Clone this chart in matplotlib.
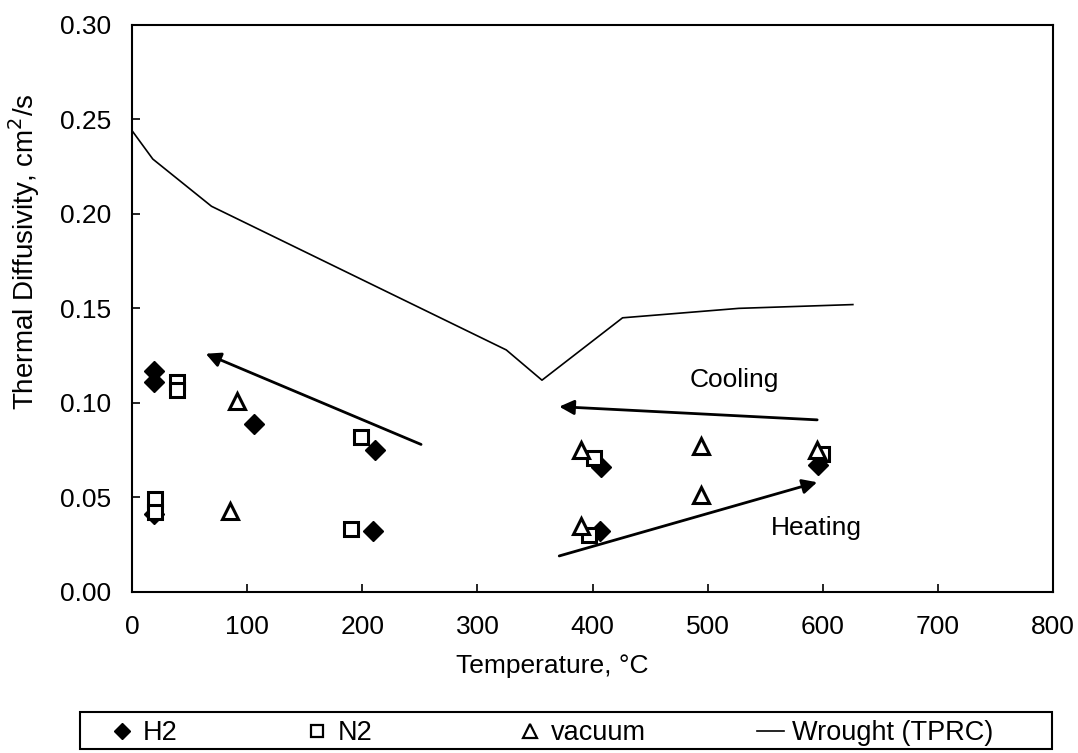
import matplotlib
matplotlib.use("Agg")
import matplotlib.pyplot as plt
from matplotlib.lines import Line2D
from matplotlib.patches import Rectangle

plt.rcParams['font.family'] = ['Liberation Sans', 'DejaVu Sans']

# measured diffusivity, cm^2/s
h2_temp = [19, 19, 19, 106, 211, 209, 407, 406, 596]
h2_diff = [0.117, 0.111, 0.041, 0.089, 0.075, 0.032, 0.066, 0.032, 0.067]

n2_temp = [39, 39, 20, 20, 199, 190, 401, 397, 599]
n2_diff = [0.111, 0.107, 0.049, 0.042, 0.082, 0.033, 0.071, 0.030, 0.073]

vac_temp = [91, 85, 390, 390, 494, 494, 595]
vac_diff = [0.101, 0.043, 0.075, 0.035, 0.077, 0.051, 0.075]

# wrought reference curve (TPRC)
tprc_temp = [0, 18, 69, 325, 356, 426, 527, 626]
tprc_diff = [0.244, 0.229, 0.204, 0.128, 0.112, 0.145, 0.150, 0.152]

x_ticks = [0, 100, 200, 300, 400, 500, 600, 700, 800]
y_ticks = [0.00, 0.05, 0.10, 0.15, 0.20, 0.25, 0.30]

W, H = 1078, 753
fig = plt.figure(figsize=(W / 100, H / 100), dpi=100)
ax = fig.add_axes([0.1225, 0.214, 0.8545, 0.753])

ax.plot(tprc_temp, tprc_diff, color='black', lw=1.2)
ax.plot(h2_temp, h2_diff, ls='none', marker='D', ms=10, color='black')
ax.plot(n2_temp, n2_diff, ls='none', marker='s', ms=10, mfc='white',
        mec='black', mew=2.2)
ax.plot(vac_temp, vac_diff, ls='none', marker='^', ms=11, mfc='white',
        mec='black', mew=2.2)

arrow = dict(arrowstyle='-|>', color='black', lw=2, mutation_scale=22,
             shrinkA=0, shrinkB=0)
ax.annotate('', xy=(64, 0.126), xytext=(251, 0.078), arrowprops=arrow)
ax.annotate('', xy=(371, 0.098), xytext=(595, 0.091), arrowprops=arrow)
ax.annotate('', xy=(595, 0.058), xytext=(371, 0.019), arrowprops=arrow)
ax.text(523, 0.112, 'Cooling', fontsize=19, ha='center', va='center')
ax.text(594, 0.034, 'Heating', fontsize=19, ha='center', va='center')

ax.set_xlim(0, 800)
ax.set_ylim(0, 0.30)
ax.set_xticks(x_ticks)
ax.set_yticks(y_ticks)
ax.set_yticklabels([f'{v:.2f}' for v in y_ticks])
ax.tick_params(direction='in', length=6, width=1.2, labelsize=19)
ax.tick_params(axis='x', pad=17)
ax.tick_params(axis='y', pad=15)
for s in ax.spines.values():
    s.set_linewidth(1.5)

ax.set_xlabel('Temperature, °C', fontsize=19)
ax.set_ylabel('Thermal Diffusivity, cm$^2$/s', fontsize=20)
ax.xaxis.set_label_coords(0.456, -0.11)
ax.yaxis.set_label_coords(-0.098, 0.60)

# legend strip below the axes
fig.add_artist(Rectangle((80 / W, 1 - 749 / H), 972 / W, 37 / H,
                         transform=fig.transFigure, fill=False,
                         edgecolor='black', lw=1.5))
handles = [
    Line2D([], [], ls='none', marker='D', ms=8, color='black'),
    Line2D([], [], ls='none', marker='s', ms=9, mfc='white', mec='black', mew=1.6),
    Line2D([], [], ls='none', marker='^', ms=10, mfc='white', mec='black', mew=1.6),
    Line2D([], [], color='black', lw=1.2),
]
labels = ['H2', 'N2', 'vacuum', 'Wrought (TPRC)']
entry_x = [108, 303, 516, 757]
for h, lab, px in zip(handles, labels, entry_x):
    fig.legend([h], [lab], loc='center left',
               bbox_to_anchor=(px / W, 1 - 733 / H), fontsize=19.5,
               frameon=False, handlelength=1.0, handletextpad=0.3,
               borderpad=0, borderaxespad=0)

fig.savefig('out.png', dpi=100)
